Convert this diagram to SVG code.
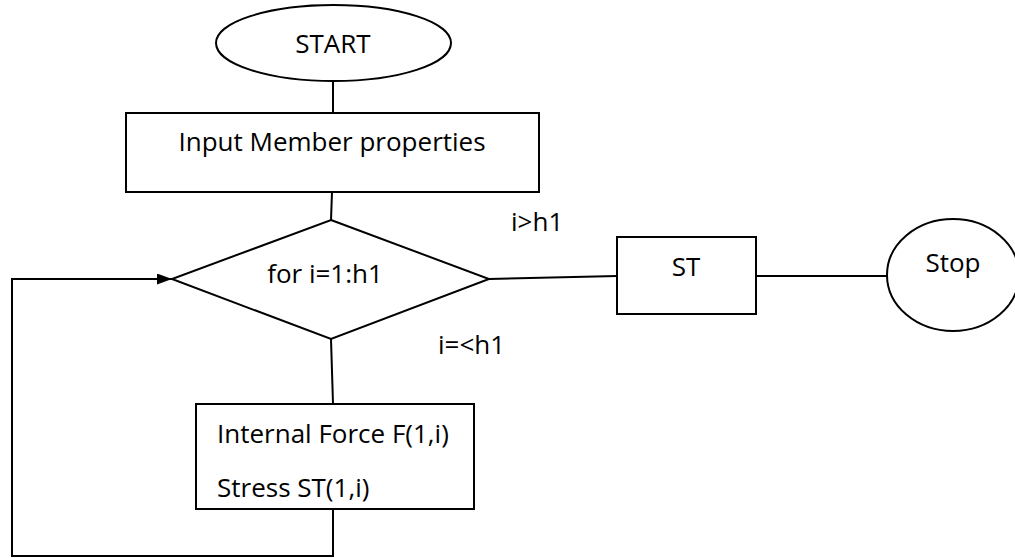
<svg xmlns="http://www.w3.org/2000/svg" width="1015" height="558" viewBox="0 0 1015 558">
  <style>
    .shape { fill: #fff; stroke: #000; stroke-width: 2; }
    .conn { fill: none; stroke: #000; stroke-width: 2; }
    text { font-family: "Open Sans", "Noto Sans", sans-serif; font-size: 26px; fill: #000; }
    .mid { text-anchor: middle; }
  </style>
  <defs>
    <marker id="arrow" markerWidth="16" markerHeight="12" refX="15" refY="5.5" orient="auto" markerUnits="userSpaceOnUse">
      <path d="M0,0 L15,5.5 L0,11 Z" fill="#000"/>
    </marker>
  </defs>
  <rect width="1015" height="558" fill="#fff"/>

  <!-- connectors -->
  <g id="connectors">
    <line class="conn" x1="333" y1="81" x2="333" y2="113"/>
    <line class="conn" x1="332" y1="192" x2="331" y2="220"/>
    <line class="conn" x1="489" y1="279" x2="617" y2="276"/>
    <line class="conn" x1="756" y1="276" x2="887" y2="276"/>
    <line class="conn" x1="331" y1="339" x2="333" y2="404"/>
    <path class="conn" d="M333,509 V556 H12 V279 H172" marker-end="url(#arrow)"/>
    <text x="511" y="231">i&gt;h1</text>
    <text x="438" y="354">i=&lt;h1</text>
  </g>

  <g id="start">
    <ellipse class="shape" cx="333.5" cy="43" rx="117.5" ry="38"/>
    <text class="mid" x="333" y="53">START</text>
  </g>

  <g id="input">
    <rect class="shape" x="126" y="113" width="413" height="79"/>
    <text class="mid" x="332" y="151">Input Member properties</text>
  </g>

  <g id="loop">
    <polygon class="shape" points="331,220 489,279 331,339 172,279"/>
    <text class="mid" x="325" y="283">for i=1:h1</text>
  </g>

  <g id="calc">
    <rect class="shape" x="196" y="404" width="278" height="105"/>
    <text x="217" y="443">Internal Force F(1,i)</text>
    <text x="217" y="497">Stress ST(1,i)</text>
  </g>

  <g id="st">
    <rect class="shape" x="617" y="237" width="139" height="77"/>
    <text class="mid" x="686" y="276">ST</text>
  </g>

  <g id="stop">
    <ellipse class="shape" cx="953" cy="275" rx="66" ry="56"/>
    <text class="mid" x="953" y="272">Stop</text>
  </g>
</svg>
